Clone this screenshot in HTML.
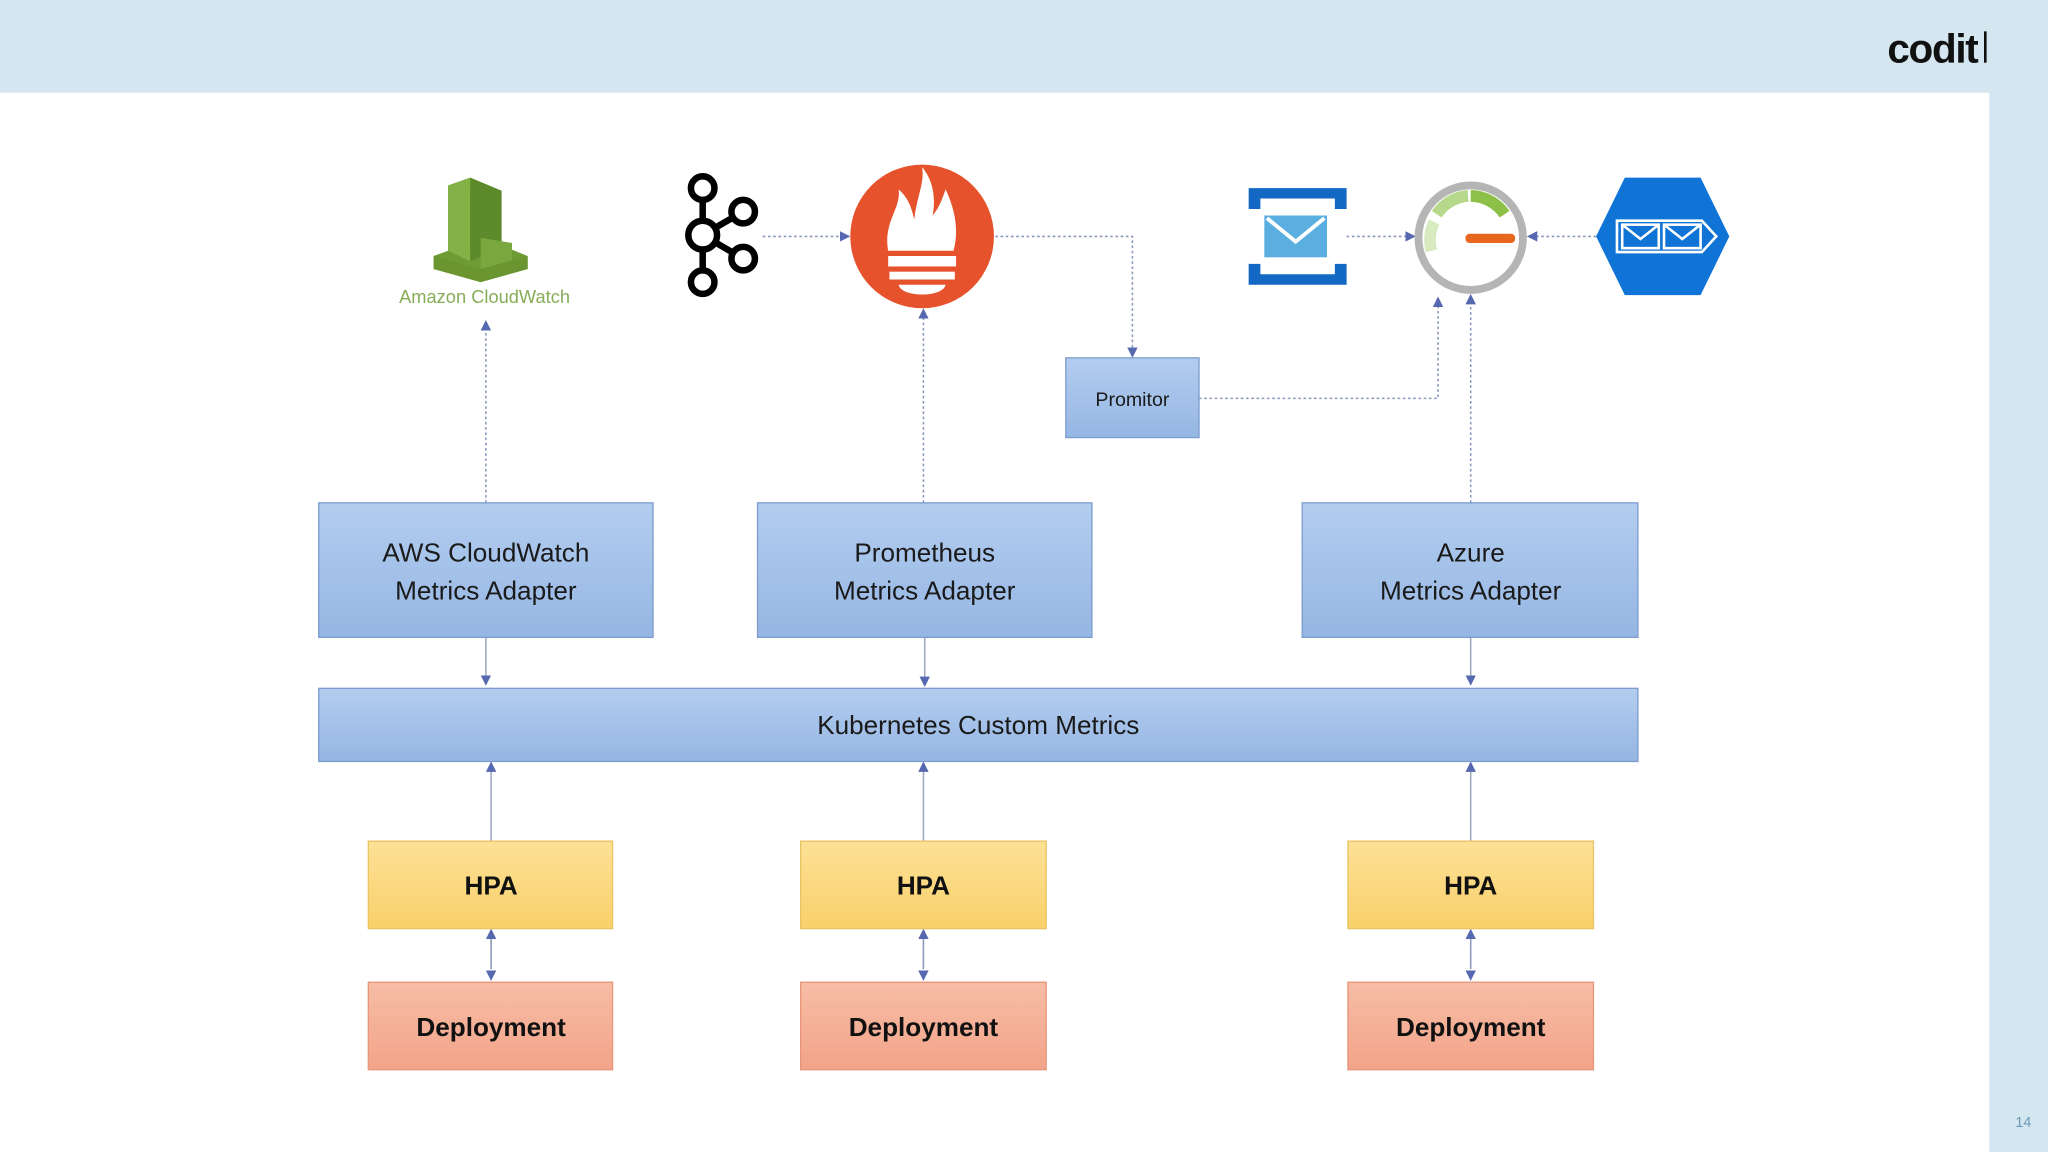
<!DOCTYPE html>
<html><head><meta charset="utf-8"><style>html,body{margin:0;padding:0;background:#d4e6f0}svg{display:block}</style></head>
<body>
<svg width="2048" height="1152" viewBox="0 0 1568 882" xmlns="http://www.w3.org/2000/svg" font-family="Liberation Sans, sans-serif">
<defs>
<linearGradient id="bl" x1="0" y1="0" x2="0" y2="1"><stop offset="0" stop-color="#b3cdef"/><stop offset="1" stop-color="#95b6e3"/></linearGradient>
<linearGradient id="ye" x1="0" y1="0" x2="0" y2="1"><stop offset="0" stop-color="#fde197"/><stop offset="1" stop-color="#f9d06a"/></linearGradient>
<linearGradient id="sa" x1="0" y1="0" x2="0" y2="1"><stop offset="0" stop-color="#f7bda6"/><stop offset="1" stop-color="#f2a489"/></linearGradient>
<marker id="a" markerWidth="8" markerHeight="8" refX="7" refY="4" orient="auto" markerUnits="userSpaceOnUse"><path d="M0,0 L8,4 L0,8z" fill="#5568b0"/></marker>
</defs>
<rect width="1568" height="882" fill="#d4e6f0"/>
<rect x="0" y="71" width="1523" height="811" fill="#fff"/>
<text x="1514" y="48" font-size="31" font-weight="bold" fill="#111" text-anchor="end" letter-spacing="-1">codit</text>
<rect x="1519" y="24" width="2" height="24" fill="#111"/>
<text x="1543" y="863" font-size="11" fill="#6b9ab8">14</text>

<g stroke="#8a96bd" stroke-width="1.2" stroke-dasharray="2,2" fill="none">
<path d="M372 385 V246" marker-end="url(#a)"/>
<path d="M707 385 V237" marker-end="url(#a)"/>
<path d="M1126 385 V226" marker-end="url(#a)"/>
<path d="M918 305 H1101 V228" marker-end="url(#a)"/>
<path d="M762 181 H867 V273" marker-end="url(#a)"/>
<path d="M584 181 H650" marker-end="url(#a)"/>
<path d="M1031 181 H1083" marker-end="url(#a)"/>
<path d="M1222 181 H1170" marker-end="url(#a)"/>
<path d="M372 488 V524" marker-end="url(#a)" stroke-dasharray="none" stroke="#a0a8c0"/>
<path d="M708 488 V525" marker-end="url(#a)" stroke-dasharray="none" stroke="#a0a8c0"/>
<path d="M1126 488 V524" marker-end="url(#a)" stroke-dasharray="none" stroke="#a0a8c0"/>
<path d="M376 644 V584" marker-end="url(#a)" stroke-dasharray="none" stroke="#a0a8c0"/>
<path d="M707 644 V584" marker-end="url(#a)" stroke-dasharray="none" stroke="#a0a8c0"/>
<path d="M1126 644 V584" marker-end="url(#a)" stroke-dasharray="none" stroke="#a0a8c0"/>
<path d="M376 720 V750" marker-end="url(#a)"/><path d="M376 740 V712" marker-end="url(#a)"/>
<path d="M707 720 V750" marker-end="url(#a)"/><path d="M707 740 V712" marker-end="url(#a)"/>
<path d="M1126 720 V750" marker-end="url(#a)"/><path d="M1126 740 V712" marker-end="url(#a)"/>
</g>

<g stroke="#7c9ccd" stroke-width="1" fill="url(#bl)">
<rect x="244" y="385" width="256" height="103"/>
<rect x="580" y="385" width="256" height="103"/>
<rect x="997" y="385" width="257" height="103"/>
<rect x="244" y="527" width="1010" height="56"/>
<rect x="816" y="274" width="102" height="61"/>
</g>
<g font-size="20" fill="#1a1a1a" text-anchor="middle">
<text x="372" y="430">AWS CloudWatch</text><text x="372" y="459">Metrics Adapter</text>
<text x="708" y="430">Prometheus</text><text x="708" y="459">Metrics Adapter</text>
<text x="1126" y="430">Azure</text><text x="1126" y="459">Metrics Adapter</text>
<text x="749" y="562">Kubernetes Custom Metrics</text>
<text x="867" y="311" font-size="15">Promitor</text>
</g>
<g stroke="#e8c462" fill="url(#ye)">
<rect x="282" y="644" width="187" height="67"/><rect x="613" y="644" width="188" height="67"/><rect x="1032" y="644" width="188" height="67"/>
</g>
<g stroke="#e8957a" fill="url(#sa)">
<rect x="282" y="752" width="187" height="67"/><rect x="613" y="752" width="188" height="67"/><rect x="1032" y="752" width="188" height="67"/>
</g>
<g font-size="20" font-weight="bold" fill="#111" text-anchor="middle">
<text x="376" y="685">HPA</text><text x="707" y="685">HPA</text><text x="1126" y="685">HPA</text>
<text x="376" y="793">Deployment</text><text x="707" y="793">Deployment</text><text x="1126" y="793">Deployment</text>
</g>

<g>
<polygon points="343,142 360,136 384,146 384,188 404,196 404,206 368,216 332,206 332,196 343,192" fill="#6f9b35"/>
<polygon points="343,142 360,136 360,200 343,192" fill="#85b247"/>
<polygon points="360,136 384,146 384,190 360,200" fill="#5d8a2a"/>
<polygon points="368,182 392,186 392,204 368,210" fill="#7aa83f"/>
<polygon points="332,196 368,206 404,196 404,206 368,216 332,206" fill="#6a9530"/>
<text x="371" y="232" font-size="14" fill="#86ad58" text-anchor="middle">Amazon CloudWatch</text>
</g>
<g stroke="#000" stroke-width="5" fill="#fff">
<line x1="538" y1="145" x2="538" y2="215"/><line x1="538" y1="180" x2="569" y2="162"/><line x1="538" y1="180" x2="569" y2="198"/>
<circle cx="538" cy="144" r="9"/><circle cx="538" cy="180" r="11"/><circle cx="538" cy="216" r="9"/>
<circle cx="569" cy="162" r="9"/><circle cx="569" cy="198" r="9"/>
</g>
<g>
<ellipse cx="706" cy="181" rx="55" ry="55" fill="#e6522c"/>
<path d="M680 192 C676 170 690 160 688 145 C696 152 698 160 700 168 C702 150 708 140 706 128 C716 140 716 155 714 165 C720 158 722 150 724 145 C732 162 734 178 730 192 Z" fill="#fff"/>
<rect x="680" y="196" width="52" height="8" fill="#fff"/>
<rect x="681" y="208" width="50" height="6" fill="#fff"/>
<path d="M688 218 H724 C722 228 690 228 688 218Z" fill="#fff"/>
</g>
<g>
<path d="M956 144 H1031 V160 H1022 V152 H965 V160 H956Z" fill="#1368c4"/>
<path d="M956 218 H1031 V202 H1022 V210 H965 V202 H956Z" fill="#1368c4"/>
<rect x="968" y="165" width="48" height="32" fill="#5aaee0"/>
<path d="M970 167 L992 185 L1014 167" stroke="#fff" stroke-width="3" fill="none"/>
</g>
<g>
<circle cx="1126" cy="182" r="40" fill="#fff" stroke="#b5b5b5" stroke-width="6"/>
<path d="M1126 150 A32 32 0 0 1 1152 164" stroke="#8dc048" stroke-width="9" fill="none"/>
<path d="M1100 164 A32 32 0 0 1 1124 150" stroke="#b6d88a" stroke-width="9" fill="none"/>
<path d="M1096 192 A32 32 0 0 1 1098 170" stroke="#d8eac0" stroke-width="9" fill="none"/>
<rect x="1122" y="179" width="38" height="7" rx="3" fill="#e8671e"/>
</g>
<g>
<polygon points="1244,136 1302,136 1324,181 1302,226 1244,226 1222,181" fill="#0f74d6"/>
<path d="M1238 169 H1303 L1314 181 L1303 193 H1238Z" stroke="#fff" stroke-width="2" fill="none"/>
<rect x="1242" y="172" width="28" height="18" stroke="#fff" stroke-width="2" fill="none"/>
<rect x="1274" y="172" width="28" height="18" stroke="#fff" stroke-width="2" fill="none"/>
<path d="M1242 172 L1256 183 L1270 172 M1274 172 L1288 183 L1302 172" stroke="#fff" stroke-width="2" fill="none"/>
</g>
</svg>
</body></html>
